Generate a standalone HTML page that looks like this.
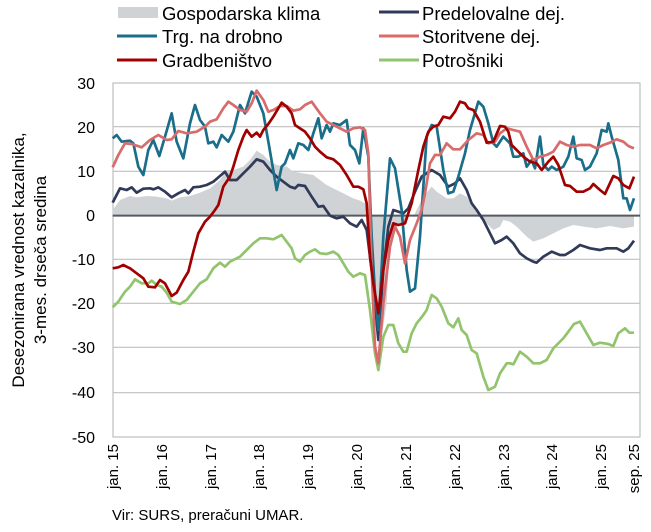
<!DOCTYPE html>
<html><head><meta charset="utf-8"><style>
body{margin:0;background:#fff;}
svg{display:block;font-family:"Liberation Sans",sans-serif;}
</style></head><body>
<svg width="651" height="532" viewBox="0 0 651 532" xmlns="http://www.w3.org/2000/svg">
<!-- legend -->
<rect x="118" y="7" width="40" height="11" fill="#d0d3d6"/>
<text x="162" y="20" font-size="18.5">Gospodarska klima</text>
<line x1="379" y1="12" x2="419" y2="12" stroke="#313a58" stroke-width="3"/>
<text x="422" y="20" font-size="18.5">Predelovalne dej.</text>
<line x1="117" y1="36" x2="157" y2="36" stroke="#1a6e8a" stroke-width="3"/>
<text x="162" y="43" font-size="18.5">Trg. na drobno</text>
<line x1="379" y1="36" x2="419" y2="36" stroke="#d86b6b" stroke-width="3"/>
<text x="422" y="43" font-size="18.5">Storitvene dej.</text>
<line x1="117" y1="60" x2="157" y2="60" stroke="#a00000" stroke-width="3"/>
<text x="162" y="67" font-size="18.5">Gradbeništvo</text>
<line x1="379" y1="60" x2="419" y2="60" stroke="#92c46e" stroke-width="3"/>
<text x="422" y="67" font-size="18.5">Potrošniki</text>

<!-- grid -->
<g stroke="#bfbfbf" stroke-width="1.2">
<line x1="113" y1="126.7" x2="640" y2="126.7"/>
<line x1="113" y1="171.3" x2="640" y2="171.3"/>
<line x1="113" y1="259.3" x2="640" y2="259.3"/>
<line x1="113" y1="303.3" x2="640" y2="303.3"/>
<line x1="113" y1="347.3" x2="640" y2="347.3"/>
<line x1="113" y1="392.7" x2="640" y2="392.7"/>
</g>
<rect x="113" y="83" width="527" height="354" fill="none" stroke="#bfbfbf" stroke-width="1.2"/>

<!-- y labels -->
<g font-size="16" text-anchor="end">
<text x="95" y="89">30</text><text x="95" y="133">20</text><text x="95" y="177">10</text>
<text x="95" y="221">0</text><text x="95" y="265">-10</text><text x="95" y="309">-20</text>
<text x="95" y="353">-30</text><text x="95" y="398">-40</text><text x="95" y="443">-50</text>
</g>
<g font-size="17" text-anchor="middle">
<text transform="translate(24,260) rotate(-90)">Desezonirana vrednost kazalnika,</text>
<text transform="translate(46,260) rotate(-90)">3-mes. drseča sredina</text>
</g>
<!-- x labels -->
<g font-size="15" text-anchor="end">
<text transform="translate(118,444) rotate(-90)">jan. 15</text>
<text transform="translate(167,444) rotate(-90)">jan. 16</text>
<text transform="translate(216,444) rotate(-90)">jan. 17</text>
<text transform="translate(264,444) rotate(-90)">jan. 18</text>
<text transform="translate(313,444) rotate(-90)">jan. 19</text>
<text transform="translate(362,444) rotate(-90)">jan. 20</text>
<text transform="translate(411,444) rotate(-90)">jan. 21</text>
<text transform="translate(460,444) rotate(-90)">jan. 22</text>
<text transform="translate(509,444) rotate(-90)">jan. 23</text>
<text transform="translate(557,444) rotate(-90)">jan. 24</text>
<text transform="translate(606,444) rotate(-90)">jan. 25</text>
<text transform="translate(639,444) rotate(-90)">sep. 25</text>
</g>
<text x="112" y="520" font-size="15">Vir: SURS, preračuni UMAR.</text>

<g transform="translate(100,70) scale(0.33333)" fill="none" stroke-linejoin="round">
<polygon fill="#d0d3d6" stroke="none" points="38,437 38,420 60,390 90,378 110,382 140,378 170,380 200,385 215,392 240,382 270,378 300,368 330,355 360,330 380,300 400,300 430,290 450,270 470,242 490,255 510,275 530,285 560,290 580,305 610,310 640,315 660,330 680,345 700,355 720,365 740,375 760,385 780,392 795,400 805,437 820,560 830,700 835,780 845,800 860,700 870,520 890,470 910,460 930,437 940,440 970,380 995,350 1010,365 1040,385 1060,385 1080,370 1100,380 1120,410 1150,450 1180,480 1200,470 1210,450 1230,455 1250,470 1280,500 1300,515 1330,505 1360,490 1390,475 1420,465 1450,470 1490,475 1530,468 1570,475 1602,470 1602,437"/>
<line x1="38" y1="437" x2="1620" y2="437" stroke="#555a60" stroke-width="2" vector-effect="non-scaling-stroke"/>
<g stroke-width="2.7">
<polyline vector-effect="non-scaling-stroke" stroke="#92c46e" points="38,712 55,695 75,665 90,650 105,628 125,640 145,640 155,632 170,645 185,650 200,668 215,695 240,702 260,690 280,665 300,640 320,628 340,595 360,578 375,590 390,575 410,565 420,560 440,540 460,520 480,505 500,505 520,508 545,495 560,515 575,535 585,565 600,575 615,555 630,545 645,538 660,550 680,552 700,545 715,555 730,580 745,605 760,620 780,610 795,615 810,720 825,850 835,900 850,800 865,765 880,765 895,820 910,845 920,845 935,790 950,760 970,735 980,720 995,675 1010,685 1025,710 1045,760 1060,772 1075,745 1085,780 1100,795 1115,840 1130,850 1150,920 1165,960 1185,950 1200,910 1220,880 1230,880 1240,883 1260,845 1280,860 1300,880 1320,880 1340,870 1360,835 1375,820 1390,805 1405,785 1422,762 1440,755 1460,790 1480,825 1500,818 1525,822 1540,828 1555,790 1575,775 1588,788 1602,788"/>
<polyline vector-effect="non-scaling-stroke" stroke="#313a58" points="38,398 60,355 80,360 95,352 110,368 130,356 150,355 160,358 175,352 195,365 215,382 235,370 255,360 265,370 280,352 300,350 320,345 340,335 360,318 375,305 390,330 410,330 430,310 450,290 470,268 490,275 510,300 530,320 550,335 570,350 585,355 595,345 615,348 635,380 655,410 670,408 690,437 710,445 730,440 750,460 770,470 785,450 800,480 815,600 825,700 835,810 850,600 865,470 880,420 895,425 910,430 925,415 945,365 965,320 995,300 1020,315 1045,350 1065,340 1080,325 1100,360 1115,400 1130,420 1150,450 1170,490 1185,520 1205,510 1220,500 1240,520 1260,550 1280,565 1300,575 1310,578 1330,560 1355,545 1380,555 1395,555 1420,540 1440,525 1470,535 1500,540 1520,535 1550,535 1570,545 1585,535 1602,512"/>
<polyline vector-effect="non-scaling-stroke" stroke="#1a6e8a" points="38,205 50,195 65,215 90,212 100,220 115,290 130,315 145,240 160,210 178,258 195,200 215,130 230,215 250,265 270,160 285,105 300,150 315,170 325,220 340,215 350,232 365,195 375,205 385,215 400,185 420,105 435,130 455,65 470,80 490,130 505,215 530,360 545,290 555,280 570,240 580,265 595,220 610,225 625,240 640,190 655,145 665,205 680,165 690,185 700,160 720,165 740,150 750,225 765,240 778,280 790,175 805,260 815,500 825,670 835,780 850,500 870,265 885,295 905,420 920,600 930,665 945,655 960,500 970,350 980,200 995,165 1010,170 1030,300 1045,370 1060,365 1075,320 1095,250 1110,180 1135,95 1150,110 1165,160 1180,220 1190,230 1210,200 1230,220 1240,260 1255,260 1270,250 1280,290 1295,270 1305,295 1320,200 1330,285 1345,300 1355,290 1370,300 1390,290 1405,260 1420,200 1430,265 1445,270 1455,300 1470,290 1490,250 1505,180 1520,185 1525,160 1535,200 1555,270 1570,385 1580,385 1590,420 1602,385"/>
<polyline vector-effect="non-scaling-stroke" stroke="#d86b6b" points="38,292 55,255 75,220 95,222 125,232 150,210 175,195 200,210 215,208 235,183 260,190 290,185 315,170 330,155 350,148 370,115 385,95 400,105 420,120 440,125 455,100 470,62 490,90 505,125 520,120 540,108 560,108 580,122 600,118 615,105 635,95 660,130 680,155 710,170 740,185 760,175 780,172 795,180 805,250 815,600 825,830 835,880 850,700 870,530 885,470 900,500 915,580 930,510 950,460 965,420 975,370 990,280 1005,255 1020,255 1040,220 1060,238 1080,238 1105,210 1130,190 1150,195 1165,220 1185,215 1200,190 1220,175 1240,180 1260,185 1280,230 1300,270 1320,260 1340,255 1360,245 1380,215 1400,225 1420,230 1440,225 1470,225 1490,235 1510,225 1530,218 1550,208 1570,215 1585,228 1602,235"/>
<polyline vector-effect="non-scaling-stroke" stroke="#a00000" points="38,595 55,592 70,585 90,595 110,610 130,625 145,650 165,652 180,630 195,640 215,678 230,668 250,630 265,605 280,545 295,490 315,455 330,440 345,420 355,405 370,350 390,320 400,290 415,240 430,200 440,180 455,200 470,188 480,200 490,180 505,162 520,140 545,98 560,110 575,130 585,165 600,175 615,185 630,205 645,230 660,245 680,262 700,268 720,285 740,315 760,350 775,350 790,358 800,400 810,560 820,640 835,730 850,600 865,510 880,460 895,465 915,460 935,400 955,300 970,230 985,185 1000,170 1015,165 1030,140 1050,145 1065,125 1080,95 1095,100 1105,115 1120,120 1140,155 1160,218 1180,215 1200,168 1215,170 1225,185 1235,225 1250,240 1270,260 1290,275 1310,280 1325,300 1345,275 1360,260 1375,285 1395,345 1410,348 1430,365 1450,365 1470,355 1480,342 1500,360 1515,372 1525,350 1540,318 1555,325 1570,345 1588,355 1602,320"/>
</g>
</g>
</svg>
</body></html>
